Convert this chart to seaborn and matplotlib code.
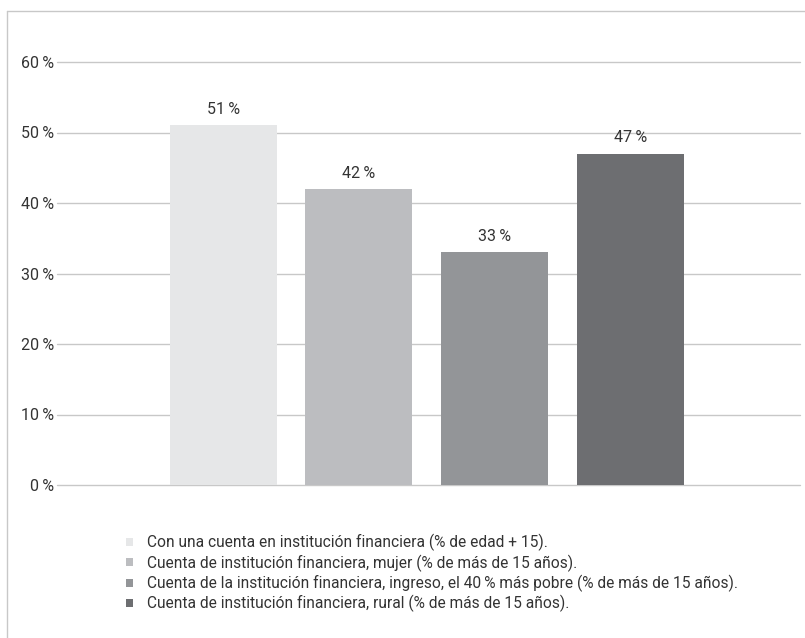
import matplotlib
matplotlib.use("Agg")
import matplotlib.pyplot as plt
import seaborn as sns
import pandas as pd
from matplotlib.lines import Line2D

# datos
categorias = [
    "Con una cuenta en institución financiera (% de edad + 15).",
    "Cuenta de institución financiera, mujer (% de más de 15 años).",
    "Cuenta de la institución financiera, ingreso, el 40\u2009% más pobre (% de más de 15 años).",
    "Cuenta de institución financiera, rural (% de más de 15 años).",
]
valores = [51, 42, 33, 47]
colores = ["#e6e7e8", "#bcbdc0", "#939598", "#6d6e71"]
ticks_y = [0, 10, 20, 30, 40, 50, 60]

sns.set_theme(style="white")
plt.rcParams["font.family"] = ["Roboto", "DejaVu Sans"]

df = pd.DataFrame({"cat": categorias, "val": valores})

fig = plt.figure(figsize=(8.05, 6.38), dpi=100)
ax = fig.add_axes([57 / 805, 1 - 485 / 638, (800 - 57) / 805, (485 - 62) / 638])

sns.barplot(data=df, x="cat", y="val", hue="cat", palette=colores,
            dodge=False, width=0.79, legend=True, ax=ax, saturation=1,
            linewidth=0)

ax.set_ylim(0, 60)
ax.set_xlim(-1.224, 4.25)
ax.set_yticks(ticks_y)
ax.set_yticklabels([f"{t}\u2009%" for t in ticks_y], fontsize=11.5, color="#333333")
ax.set_xticks([])
ax.set_xlabel("")
ax.set_ylabel("")
ax.tick_params(axis="y", length=0, pad=2)
ax.yaxis.grid(True, color="#c8c8c8", linewidth=1)
for gl in ax.yaxis.get_gridlines():
    gl.set_clip_on(False)
ax.set_axisbelow(True)
for s in ax.spines.values():
    s.set_visible(False)

# etiquetas de valor
for i, v in enumerate(valores):
    ax.annotate(f"{v}\u2009%", (i, v), xytext=(0, 6), textcoords="offset points",
                ha="center", va="bottom", fontsize=11.5, color="#333333")

# leyenda
handles, labels = ax.get_legend_handles_labels()
ax.get_legend().remove()
fig.legend(handles, labels, loc="upper left", bbox_to_anchor=(126 / 805, 1 - 534 / 638),
           frameon=False, fontsize=11.2, handlelength=0.42, handleheight=0.42,
           handletextpad=0.95, labelspacing=0.2, borderpad=0, borderaxespad=0,
           labelcolor="#333333")

# marco
fig.add_artist(Line2D([7 / 805, 1], [1 - 11 / 638] * 2, color="#c8c8c8", lw=1))
fig.add_artist(Line2D([7 / 805] * 2, [0, 1 - 11 / 638], color="#c8c8c8", lw=1))

fig.savefig("out.png", dpi=100)
